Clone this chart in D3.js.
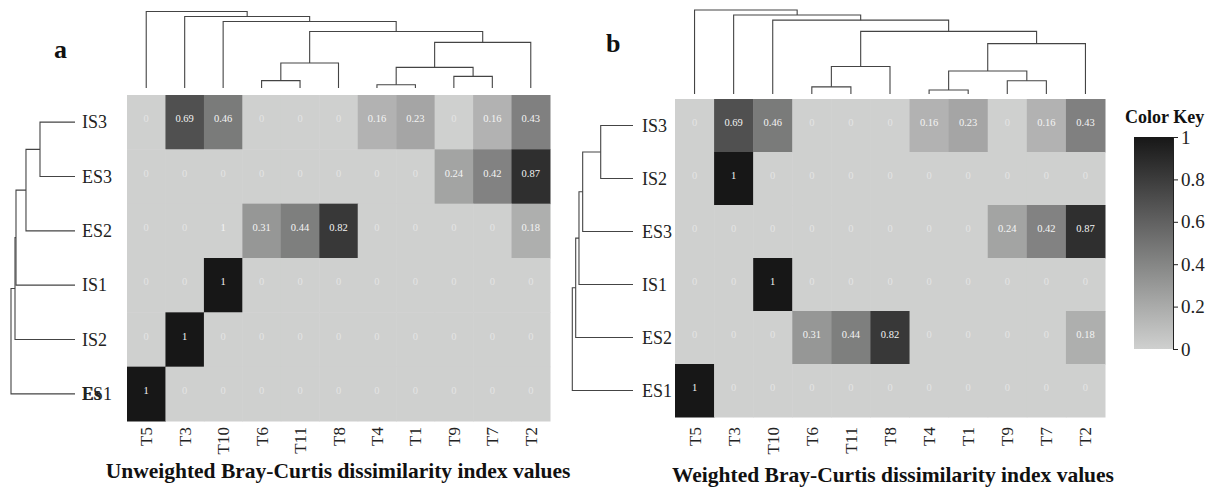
<!DOCTYPE html>
<html>
<head>
<meta charset="utf-8">
<script src="https://cdn.jsdelivr.net/npm/d3@7"></script>
<style>
  body { margin: 0; background: #fff; }
  text { font-family: "Liberation Serif", "DejaVu Serif", serif; }
</style>
</head>
<body>
<div id="container"></div>
<script>
// columns are shared by both heatmaps
var columns = ["T5", "T3", "T10", "T6", "T11", "T8", "T4", "T1", "T9", "T7", "T2"];

// panel a: unweighted
var rowsA = ["IS3", "ES3", "ES2", "IS1", "IS2", "ES1"];
var valuesA = [
  [0, 0.69, 0.46, 0, 0, 0, 0.16, 0.23, 0, 0.16, 0.43],
  [0, 0, 0, 0, 0, 0, 0, 0, 0.24, 0.42, 0.87],
  [0, 0, 0, 0.31, 0.44, 0.82, 0, 0, 0, 0, 0.18],
  [0, 0, 1, 0, 0, 0, 0, 0, 0, 0, 0],
  [0, 1, 0, 0, 0, 0, 0, 0, 0, 0, 0],
  [1, 0, 0, 0, 0, 0, 0, 0, 0, 0, 0]
];
// the printed label that differs from the cell colour in the original
var labelFixA = [[2, 2, "1"]];

// panel b: weighted
var rowsB = ["IS3", "IS2", "ES3", "IS1", "ES2", "ES1"];
var valuesB = [
  [0, 0.69, 0.46, 0, 0, 0, 0.16, 0.23, 0, 0.16, 0.43],
  [0, 1, 0, 0, 0, 0, 0, 0, 0, 0, 0],
  [0, 0, 0, 0, 0, 0, 0, 0, 0.24, 0.42, 0.87],
  [0, 0, 1, 0, 0, 0, 0, 0, 0, 0, 0],
  [0, 0, 0, 0.31, 0.44, 0.82, 0, 0, 0, 0, 0.18],
  [1, 0, 0, 0, 0, 0, 0, 0, 0, 0, 0]
];

// dendrograms: [left, right, height]; numbers point to earlier merges (1-based)
var colTreeA = [["T4", "T1", 0.043], ["T6", "T11", 0.096], ["T9", "T7", 0.152], [1, 3, 0.27],
  [2, "T8", 0.326], [4, "T2", 0.596], [5, 6, 0.739], ["T10", 7, 0.87], ["T3", 8, 0.935], ["T5", 9, 1]];
var colTreeB = [["T4", "T1", 0.048], ["T6", "T11", 0.085], ["T9", "T7", 0.157], [1, 3, 0.274],
  [2, "T8", 0.327], [4, "T2", 0.60], [5, 6, 0.746], ["T10", 7, 0.879], ["T3", 8, 0.94], ["T5", 9, 1]];
var rowTreeA = [["IS3", "ES3", 0.547], [1, "ES2", 0.766], [2, "IS1", 0.922], [3, "IS2", 0.9375], [4, "ES1", 1]];
var rowTreeB = [["IS3", "IS2", 0.532], [1, "ES3", 0.829], [2, "IS1", 0.89], [3, "ES2", 0.944], [4, "ES1", 1]];

var keyTicks = [0, 0.2, 0.4, 0.6, 0.8, 1];

var W = 1214, H = 489;
var svg = d3.select("#container").append("svg")
    .attr("width", W).attr("height", H);

var color = d3.scaleLinear().domain([0, 1]).range(["#cfd0cf", "#171717"]);

function drawTree(g, merges, pos, hScale, vertical) {
  var nodes = [];
  function get(ref) {
    if (typeof ref === "string") return {p: pos(ref), h: 0};
    return nodes[ref - 1];
  }
  merges.forEach(function(m) {
    var a = get(m[0]), b = get(m[1]);
    var hy = hScale(m[2]);
    var d;
    if (vertical) {
      d = "M" + a.p + "," + hScale(a.h) + "V" + hy + "H" + b.p + "V" + hScale(b.h);
    } else {
      d = "M" + hScale(a.h) + "," + a.p + "H" + hy + "V" + b.p + "H" + hScale(b.h);
    }
    g.append("path").attr("d", d)
      .attr("fill", "none").attr("stroke", "#444").attr("stroke-width", 1.1);
    nodes.push({p: (a.p + b.p) / 2, h: m[2]});
  });
}

function drawPanel(o) {
  var g = svg.append("g");
  var x = d3.scaleBand().domain(columns).range([o.left, o.right]);
  var y = d3.scaleBand().domain(o.rows).range([o.top, o.bottom]);

  // cells
  o.values.forEach(function(row, i) {
    row.forEach(function(v, j) {
      g.append("rect")
        .attr("x", x(columns[j])).attr("y", y(o.rows[i]))
        .attr("width", x.bandwidth() + 0.5).attr("height", y.bandwidth() + 0.5)
        .attr("fill", color(v));
    });
  });
  o.values.forEach(function(row, i) {
    row.forEach(function(v, j) {
      var lab = String(v);
      (o.fix || []).forEach(function(f) { if (f[0] === i && f[1] === j) lab = f[2]; });
      g.append("text")
        .attr("x", x(columns[j]) + x.bandwidth() / 2)
        .attr("y", y(o.rows[i]) + y.bandwidth() / 2)
        .attr("text-anchor", "middle")
        .attr("font-size", 10.5)
        .attr("fill", lab === "0" ? "#e4e4e4" : "#f4f4f4")
        .text(lab);
    });
  });

  // column labels
  columns.forEach(function(c) {
    g.append("text")
      .attr("transform", "translate(" + (x(c) + x.bandwidth() / 2 + 6) + "," + o.colLabelTop + ") rotate(-90)")
      .attr("text-anchor", "end")
      .attr("font-size", 17)
      .attr("fill", "#222")
      .text(c);
  });

  // row labels
  o.rows.forEach(function(r) {
    g.append("text")
      .attr("x", o.rowLabelX).attr("y", y(r) + y.bandwidth() / 2 + 6)
      .attr("font-size", 18)
      .attr("fill", "#222")
      .text(r);
  });

  // dendrograms
  drawTree(g, o.colTree, function(c) { return x(c) + x.bandwidth() / 2; },
    d3.scaleLinear().domain([0, 1]).range(o.colTreeRange), true);
  drawTree(g, o.rowTree, function(r) { return y(r) + y.bandwidth() / 2; },
    d3.scaleLinear().domain([0, 1]).range(o.rowTreeRange), false);

  // panel letter and title
  g.append("text").attr("x", o.letterX).attr("y", o.letterY)
    .attr("font-size", 26).attr("font-weight", "bold").attr("fill", "#111")
    .text(o.letter);
  g.append("text").attr("x", o.titleX).attr("y", o.titleY)
    .attr("text-anchor", "middle")
    .attr("font-size", 21.5).attr("font-weight", "bold").attr("fill", "#111")
    .text(o.title);
  return g;
}

var gA = drawPanel({
  rows: rowsA, values: valuesA, fix: labelFixA,
  left: 127, right: 550, top: 95, bottom: 421,
  colLabelTop: 427, rowLabelX: 82,
  colTree: colTreeA, colTreeRange: [88, 11.5],
  rowTree: rowTreeA, rowTreeRange: [75, 11],
  letter: "a", letterX: 54, letterY: 58,
  title: "Unweighted Bray-Curtis dissimilarity index values", titleX: 338, titleY: 478
});
// the overprinted "Es" on ES1 in the original
gA.append("text").attr("x", 82).attr("y", 367 + 27 + 6)
  .attr("font-size", 18).attr("font-weight", "bold").attr("fill", "#222").text("Es");

drawPanel({
  rows: rowsB, values: valuesB,
  left: 675, right: 1105, top: 99, bottom: 417,
  colLabelTop: 427, rowLabelX: 642,
  colTree: colTreeB, colTreeRange: [94, 10],
  rowTree: rowTreeB, rowTreeRange: [633, 572.3],
  letter: "b", letterX: 606, letterY: 52,
  title: "Weighted Bray-Curtis dissimilarity index values", titleX: 893, titleY: 482
});

// colour key
var key = svg.append("g");
var defs = svg.append("defs");
var grad = defs.append("linearGradient").attr("id", "keygrad")
  .attr("x1", 0).attr("y1", 1).attr("x2", 0).attr("y2", 0);
keyTicks.forEach(function(t) {
  grad.append("stop").attr("offset", t).attr("stop-color", color(t));
});
var ky = d3.scaleLinear().domain([0, 1]).range([349, 137]);
key.append("rect")
  .attr("x", 1134).attr("y", ky(1)).attr("width", 39).attr("height", ky(0) - ky(1))
  .attr("fill", "url(#keygrad)");
var kAxis = key.append("g").attr("transform", "translate(1173,0)")
  .call(d3.axisRight(ky).tickValues(keyTicks).tickSize(5).tickPadding(3)
    .tickFormat(function(d) { return String(d); }));
kAxis.select(".domain").attr("stroke", "#222");
kAxis.selectAll(".tick line").attr("stroke", "#222");
kAxis.selectAll("text")
  .style("font-family", "Liberation Serif, serif")
  .attr("font-size", 19).attr("fill", "#222");
key.append("text").attr("x", 1125).attr("y", 123)
  .attr("font-size", 18).attr("font-weight", "bold").attr("fill", "#111")
  .text("Color Key");
</script>
</body>
</html>
